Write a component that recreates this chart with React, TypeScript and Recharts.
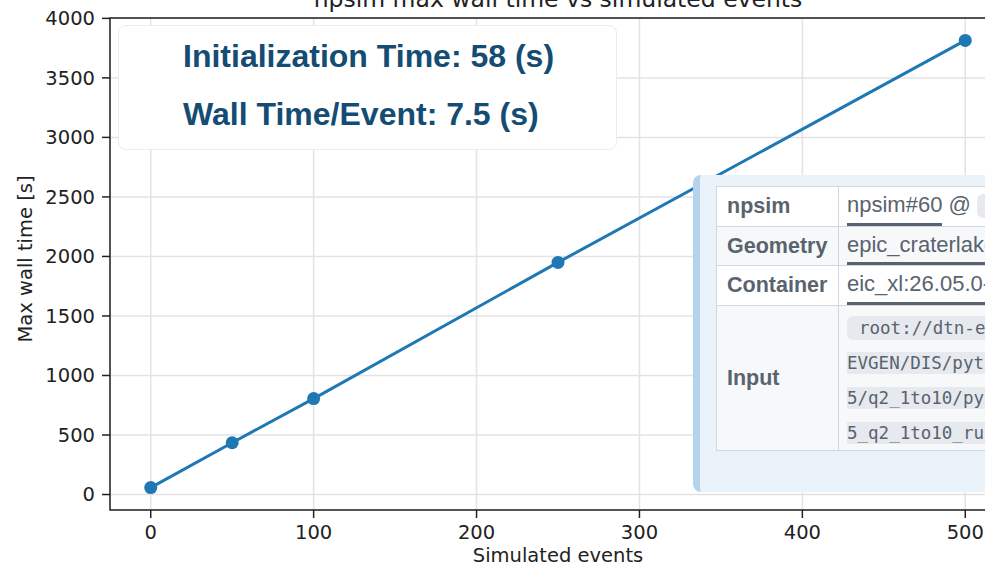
import React from 'react';
import { LineChart, Line, XAxis, YAxis, CartesianGrid, ReferenceArea, Label } from 'recharts';

// Benchmark points: number of simulated events vs. max wall time [s]
const simulatedEvents = [0, 50, 100, 250, 500];
const maxWallTime = [58, 435, 806, 1950, 3815];

const xTicks = [0, 100, 200, 300, 400, 500];
const yTicks = [0, 500, 1000, 1500, 2000, 2500, 3000, 3500, 4000];

// Linear-fit summary
const initializationTime = 58;
const wallTimePerEvent = 7.5;

// Job metadata rows
const metaLabels = ['npsim', 'Geometry', 'Container', 'Input'];
const npsimRef = 'npsim#60';
const npsimCommit = 'a3c91f2';
const geometryName = 'epic_craterlake_18x275';
const containerTag = 'eic_xl:26.05.0-stable';
const inputLines = [
  'root://dtn-eic.jlab.org//volatile/eic/EPIC/',
  'EVGEN/DIS/pythia6.428-1.0/NC/noradcor/ep_18x27',
  '5/q2_1to10/pythia6.428-1.0_NC_noradcor_ep_18x27',
  '5_q2_1to10_run001.ab.hepmc3.tree.root',
];

const data = simulatedEvents.map((n, i) => ({ events: n, time: maxWallTime[i] }));

const X_DOMAIN: [number, number] = [-25, 525];
const Y_DOMAIN: [number, number] = [-130, 4003];

const TICK_FONT = { fill: '#222', fontSize: 19.5, fontFamily: 'DejaVu Sans' };
const PANEL_TEXT = '#59636e';

const cellBorder = '1px solid #d0d7de';

function App() {
  const labelCell: React.CSSProperties = {
    border: cellBorder,
    padding: '0 10px',
    fontWeight: 700,
    width: 101,
    whiteSpace: 'nowrap',
  };
  const valueCell: React.CSSProperties = {
    border: cellBorder,
    padding: '0 8px',
    whiteSpace: 'nowrap',
  };
  const linkStyle: React.CSSProperties = {
    display: 'inline-block',
    lineHeight: '36px',
    borderBottom: `3px solid ${PANEL_TEXT}`,
    color: PANEL_TEXT,
  };

  return (
    <div
      style={{
        position: 'absolute',
        left: 0,
        top: 0,
        width: 985,
        height: 565,
        overflow: 'hidden',
        background: '#fff',
      }}
    >
      <svg width={985} height={20} style={{ position: 'absolute', left: 0, top: 0 }}>
        <text
          x={558}
          y={7}
          textAnchor="middle"
          fontFamily="DejaVu Sans"
          fontSize={23.5}
          fill="#222"
        >
          npsim max wall time vs simulated events
        </text>
      </svg>

      <LineChart
        width={1006}
        height={565}
        data={data}
        margin={{ top: 18, right: 0, bottom: 0, left: 0 }}
        style={{ position: 'absolute', left: 0, top: 0 }}
      >
        <CartesianGrid stroke="#e3e3e3" strokeWidth={1.5} />
        <XAxis
          type="number"
          dataKey="events"
          domain={X_DOMAIN}
          ticks={xTicks}
          allowDataOverflow
          height={55}
          axisLine={false}
          tickSize={8}
          tickMargin={7}
          tickLine={{ stroke: '#222', strokeWidth: 1.5 }}
          tick={TICK_FONT}
        >
          <Label
            content={(props: any) => {
              const vb = props.viewBox || {};
              return (
                <text
                  x={558}
                  y={(vb.y ?? 510) + 52}
                  textAnchor="middle"
                  fontFamily="DejaVu Sans"
                  fontSize={19.5}
                  fill="#222"
                >
                  Simulated events
                </text>
              );
            }}
          />
        </XAxis>
        <YAxis
          type="number"
          domain={Y_DOMAIN}
          ticks={yTicks}
          allowDataOverflow
          width={110}
          axisLine={false}
          tickSize={8}
          tickMargin={7}
          tickLine={{ stroke: '#222', strokeWidth: 1.5 }}
          tick={TICK_FONT}
        >
          <Label
            content={(props: any) => {
              const vb = props.viewBox || {};
              const cy = (vb.y ?? 18) + (vb.height ?? 492) / 2 - 5;
              return (
                <text
                  x={25}
                  y={cy}
                  transform={`rotate(-90, 25, ${cy})`}
                  textAnchor="middle"
                  dominantBaseline="central"
                  fontFamily="DejaVu Sans"
                  fontSize={19.5}
                  fill="#222"
                >
                  Max wall time [s]
                </text>
              );
            }}
          />
        </YAxis>
        <ReferenceArea
          x1={X_DOMAIN[0]}
          x2={X_DOMAIN[1]}
          y1={Y_DOMAIN[0]}
          y2={Y_DOMAIN[1]}
          fill="none"
          fillOpacity={0}
          stroke="#222"
          strokeWidth={1.5}
        />
        <Line
          type="linear"
          dataKey="time"
          stroke="#1f77b4"
          strokeWidth={3}
          dot={{ r: 6.5, fill: '#1f77b4', stroke: '#1f77b4', strokeWidth: 0 }}
          isAnimationActive={false}
        />
      </LineChart>

      {/* Fit summary card */}
      <div
        style={{
          position: 'absolute',
          left: 118,
          top: 25,
          width: 499,
          height: 125,
          boxSizing: 'border-box',
          background: '#fff',
          borderRadius: 8,
          border: '1px solid #ececec',
          fontFamily: '"Liberation Sans", Arial, sans-serif',
          fontWeight: 700,
          fontSize: 32,
          color: '#144c73',
        }}
      >
        <div style={{ position: 'absolute', left: 64, top: 14, lineHeight: '32px', whiteSpace: 'nowrap' }}>
          Initialization Time: {initializationTime} (s)
        </div>
        <div style={{ position: 'absolute', left: 64, top: 72, lineHeight: '32px', whiteSpace: 'nowrap' }}>
          Wall Time/Event: {wallTimePerEvent} (s)
        </div>
      </div>

      {/* Job metadata panel */}
      <div
        style={{
          position: 'absolute',
          left: 693,
          top: 175,
          width: 420,
          height: 317,
          boxSizing: 'border-box',
          background: '#eaf2fa',
          borderLeft: '7px solid #b5d3ec',
          borderRadius: 8,
          padding: '11px 0 0 16px',
          fontFamily: '"Liberation Sans", Arial, sans-serif',
          fontSize: 21.5,
          color: PANEL_TEXT,
        }}
      >
        <table style={{ borderCollapse: 'collapse', tableLayout: 'fixed', width: 640 }}>
          <colgroup>
            <col style={{ width: 122 }} />
            <col style={{ width: 518 }} />
          </colgroup>
          <tbody>
            <tr style={{ height: 40, background: '#fff' }}>
              <td style={labelCell}>{metaLabels[0]}</td>
              <td style={{ ...valueCell, verticalAlign: 'bottom', fontSize: 22 }}>
                <span style={linkStyle}>{npsimRef}</span>
                <span style={{ lineHeight: '36px' }}> @ </span>
                <code
                  style={{
                    fontFamily: 'DejaVu Sans Mono',
                    fontSize: 17.5,
                    background: '#e6eaee',
                    borderRadius: 6,
                    padding: '2px 8px',
                  }}
                >
                  {npsimCommit}
                </code>
              </td>
            </tr>
            <tr style={{ height: 38, background: '#f6f8fa' }}>
              <td style={labelCell}>{metaLabels[1]}</td>
              <td style={{ ...valueCell, verticalAlign: 'bottom', fontSize: 22 }}>
                <span style={{ ...linkStyle, lineHeight: '35px' }}>{geometryName}</span>
              </td>
            </tr>
            <tr style={{ height: 40, background: '#fff' }}>
              <td style={labelCell}>{metaLabels[2]}</td>
              <td style={{ ...valueCell, verticalAlign: 'bottom', fontSize: 22 }}>
                <span style={linkStyle}>{containerTag}</span>
              </td>
            </tr>
            <tr style={{ height: 145, background: '#f6f8fa' }}>
              <td style={labelCell}>{metaLabels[3]}</td>
              <td style={{ ...valueCell, paddingTop: 3 }}>
                {inputLines.map((line, i) => (
                  <div key={i} style={{ lineHeight: '35px', height: 35 }}>
                    <span
                      style={{
                        fontFamily: 'DejaVu Sans Mono',
                        fontSize: 17.5,
                        background: '#e6eaee',
                        padding: i === 0 ? '2px 0 2px 12px' : '1px 0',
                        borderRadius: i === 0 ? '6px 0 0 6px' : 0,
                      }}
                    >
                      {line}
                    </span>
                  </div>
                ))}
              </td>
            </tr>
          </tbody>
        </table>
      </div>
    </div>
  );
}

export default App;
